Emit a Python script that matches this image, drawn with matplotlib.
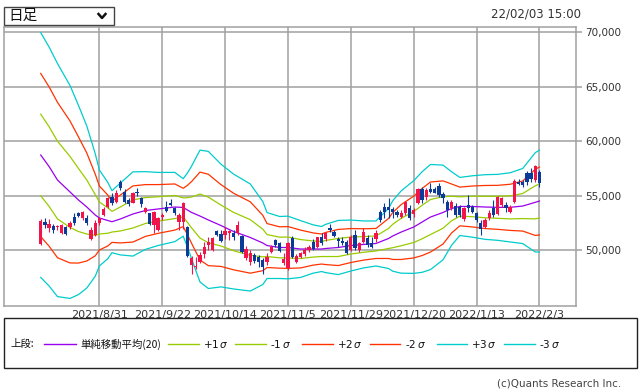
import matplotlib
matplotlib.use('Agg')
import matplotlib.pyplot as plt
from matplotlib.patches import Rectangle
from matplotlib.lines import Line2D
from matplotlib.ticker import FuncFormatter
import numpy as np

plt.rcParams['font.family'] = ['DejaVu Sans', 'Noto Sans CJK JP']

# ---------------- data ----------------
opens = [50550, 52600, 52000, 52210, 52090, 51540, 52090, 52140, 53060, 53380,
         52970, 52970, 50980, 51380, 52460, 53220, 53980, 54900, 54440, 56280,
         55360, 54600, 54350, 55360, 54760, 53520, 53380, 52300, 51840, 53060,
         53980, 54300, 53840, 52600, 52600, 52090, 48620, 48410, 48920, 49630,
         50460, 50000, 51750, 51440, 51380, 51540, 51540, 51540, 51290, 49240,
         48920, 49540, 49330, 49080, 48920, 49840, 50920, 50620, 48780, 48340,
         51080, 48920, 49330, 49630, 50000, 50760, 50300, 51170, 50980, 52000,
         51680, 50980, 50860, 50760, 50000, 51380, 50000, 50760, 51080, 50670,
         50980, 53520, 53980, 53980, 53740, 53520, 53060, 53380, 53840, 53310,
         54300, 55580, 54900, 55580, 55580, 55860, 55180, 54390, 53840, 54080,
         53910, 52820, 54140, 53980, 53430, 52510, 52090, 52920, 53840, 53310,
         54140, 54140, 53520, 54440, 56280, 56280, 57110, 57110, 56440, 57200]
closes = [52670, 52300, 52390, 51840, 52140, 52330, 51470, 52460, 52510, 53160,
          53470, 52510, 51840, 52510, 52920, 53770, 54760, 54300, 55220, 55680,
          54440, 54230, 55270, 55220, 54230, 53840, 52390, 53520, 52920, 53220,
          53620, 54140, 53380, 53220, 54350, 49450, 49240, 48500, 49540, 50280,
          50760, 51130, 51380, 50860, 51750, 51750, 51220, 52300, 49840, 50060,
          49700, 49020, 48920, 48410, 49380, 50300, 50460, 49910, 49140, 50620,
          49380, 49450, 49750, 50000, 50300, 50060, 51170, 50620, 51540, 51840,
          51290, 50860, 50620, 49750, 51220, 50160, 50670, 51680, 50460, 50300,
          51590, 52760, 53520, 53680, 53520, 53220, 53430, 54440, 52920, 53680,
          55580, 54600, 55520, 55360, 55270, 55060, 54760, 53680, 54440, 53220,
          53220, 53840, 53840, 53520, 52760, 51900, 52760, 53430, 53220, 54850,
          54760, 53840, 53980, 56380, 56070, 55980, 56280, 56500, 57730, 56140]
highs = [52850, 52920, 52820, 52390, 52330, 52390, 52210, 52700, 53380, 53500,
         53590, 53220, 52090, 52760, 53060, 53930, 54900, 55220, 55520, 56440,
         55610, 54780, 55360, 55680, 54900, 53980, 53430, 53590, 53060, 53380,
         54540, 54660, 53980, 53380, 54440, 52210, 49450, 49380, 49840, 50740,
         51200, 51220, 51840, 51840, 52140, 51840, 51840, 52670, 51380, 50370,
         50000, 49700, 49540, 49240, 49700, 50460, 50980, 50760, 49700, 50760,
         51290, 49630, 49840, 50300, 50460, 50980, 51220, 51540, 51680, 52390,
         51840, 51170, 51170, 50920, 51380, 51840, 50760, 52000, 51380, 51220,
         51840, 53680, 54300, 54760, 53930, 53680, 53680, 54540, 54140, 53840,
         55680, 55820, 55680, 56140, 55820, 56140, 55360, 54600, 54600, 54300,
         54140, 53960, 55060, 54140, 53520, 52760, 52920, 53680, 54600, 54970,
         54900, 54440, 54140, 56500, 56500, 56440, 57300, 57520, 57820, 57360]
lows = [50460, 52000, 51680, 51590, 51840, 51470, 51380, 51900, 52300, 53040,
        52760, 52300, 50920, 51290, 52300, 53130, 53840, 54140, 54300, 55520,
        54350, 54050, 54300, 54970, 53930, 53380, 52300, 51540, 51780, 52760,
        53520, 54050, 53220, 51840, 51900, 49360, 47790, 48220, 48780, 49260,
        50000, 49940, 51290, 50760, 50980, 50920, 50920, 51380, 49750, 49080,
        48620, 48780, 48460, 47790, 48620, 49700, 50300, 49840, 48620, 48160,
        49240, 48780, 49240, 49450, 49840, 50000, 50160, 50460, 50860, 51680,
        51170, 50300, 50460, 49630, 49950, 50000, 49840, 50670, 50300, 50160,
        50760, 52600, 52920, 52920, 52920, 53060, 52920, 53220, 52760, 53060,
        54200, 54300, 54600, 55220, 55220, 54900, 54300, 53060, 53680, 53060,
        53060, 52670, 53520, 53380, 52600, 51380, 52000, 52760, 53060, 53220,
        53980, 53520, 53380, 54300, 55980, 55820, 55980, 56280, 56280, 55820]

tick_idx = [14, 29, 44, 59, 74, 89, 104, 119]
tick_labels = ['2021/8/31', '2021/9/22', '2021/10/14', '2021/11/5',
               '2021/11/29', '2021/12/20', '2022/1/13', '2022/2/3']

# Bollinger band readings: bar index, 20-day SMA, sigma
band_idx = [0, 2, 4, 7, 9, 11, 13, 14, 16, 17, 19, 22, 25, 28, 32, 34, 35, 36, 38, 40,
            43, 46, 50, 53, 54, 57, 59, 62, 65, 67, 68, 71, 74, 77, 80, 83, 84, 86, 89, 91,
            93, 96, 98, 100, 103, 106, 109, 112, 115, 118, 119]
band_mid = [58730, 57670, 56430, 55330, 54600, 53950, 53220, 52940, 52710, 52600,
            52850, 53310, 53630, 53770, 53950, 53910, 53680, 53450, 53120, 52760,
            52250, 51700, 51150, 50640, 50410, 50230, 50230, 50090, 50090, 50090,
            50140, 50230, 50410, 50510, 50600, 51060, 51290, 51650, 52110, 52570,
            53030, 53450, 53810, 54000, 54000, 53950, 53920, 53920, 54040, 54380, 54500]
band_sigma = [3750, 3660, 3570, 3260, 2900, 2480, 1880, 1470, 1170, 950,
              1100, 1290, 1190, 1120, 1060, 880, 1130, 1420, 2020, 2100,
              1880, 1760, 1640, 1270, 1010, 950, 960, 870, 740, 690,
              740, 830, 780, 720, 690, 920, 1080, 1260, 1420, 1540,
              1610, 1450, 1130, 890, 940, 990, 1010, 1060, 1150, 1520, 1560]

legend_labels = ['単純移動平均(20)', '+1', '-1', '+2', '-2', '+3', '-3']

# ---------------- style ----------------
UP = '#f0144a'
DOWN = '#0c3a98'
C_MID = '#9900ee'
C_1 = '#99cc00'
C_2 = '#ff3300'
C_3 = '#00cccc'
GRID = '#a0a0a0'
W, H = 640, 392

def fx(px):
    return px / W

def fy(py):
    return 1 - py / H

fig = plt.figure(figsize=(W / 100, H / 100), dpi=100)
fig.patch.set_facecolor('white')

ax = fig.add_axes([fx(4), fy(305.7), (575.5 - 4) / W, (305.7 - 26.7) / H])
ax.set_xlim(-8.76, 127.6)
ax.set_ylim(44881, 70521)

# grid
ax.set_axisbelow(True)
ax.set_xticks(tick_idx)
ax.set_xticklabels(tick_labels)
ax.set_yticks([50000, 55000, 60000, 65000, 70000])
ax.grid(True, color=GRID, lw=1.1)
for s in ax.spines.values():
    s.set_color(GRID)
    s.set_linewidth(1.1)
ax.yaxis.tick_right()
ax.yaxis.set_major_formatter(FuncFormatter(lambda v, p: f'{int(v):,}'))
ax.tick_params(axis='y', length=4, width=1.1, color=GRID, labelsize=7.5,
               labelcolor='#333333', pad=3)
ax.tick_params(axis='x', length=0, labelsize=8, labelcolor='#333333', pad=3)

# bands
bi = np.array(band_idx)
bm = np.array(band_mid, dtype=float)
bs = np.array(band_sigma, dtype=float)
lw = 0.9
ax.plot(bi, bm, color=C_MID, lw=lw, zorder=2)
for k, col in [(1, C_1), (2, C_2), (3, C_3)]:
    ax.plot(bi, bm + k * bs, color=col, lw=lw, zorder=2)
    ax.plot(bi, bm - k * bs, color=col, lw=lw, zorder=2)

# candles
o = np.array(opens, dtype=float)
c = np.array(closes, dtype=float)
hh = np.array(highs, dtype=float)
ll = np.array(lows, dtype=float)
xi = np.arange(len(o))
cols = np.where(c >= o, UP, DOWN)
ax.vlines(xi, ll, hh, colors=cols, lw=0.8, zorder=3)
bottom = np.minimum(o, c)
height = np.maximum(np.abs(c - o), 70)
ax.bar(xi, height, bottom=bottom, width=0.78, color=cols, lw=0, zorder=4)

# top-left dropdown
fig.patches.append(Rectangle((fx(4), fy(25)), (114 - 4) / W, (25 - 6.7) / H,
                             transform=fig.transFigure, fill=True, facecolor='white',
                             edgecolor='#444444', lw=1.0, zorder=10))
fig.text(fx(8), fy(16), '日足', family=['Noto Sans CJK JP', 'DejaVu Sans'],
         fontsize=10.5, va='center', ha='left', color='#111111', zorder=11)
fig.lines.append(Line2D([fx(98.5), fx(102), fx(105.5)], [fy(14), fy(18), fy(14)],
                        transform=fig.transFigure, color='#111111', lw=1.8, zorder=11))

fig.text(fx(581), fy(14), '22/02/03 15:00', fontsize=8.5, ha='right', va='center',
         color='#333333')

# legend box
fig.patches.append(Rectangle((fx(4), fy(368)), (637 - 4) / W, (368 - 318) / H,
                             transform=fig.transFigure, fill=False,
                             edgecolor='#222222', lw=1.0))
ly = fy(344)
cjk = ['Noto Sans CJK JP', 'DejaVu Sans']
fig.text(fx(10), ly, '上段:', family=cjk, fontsize=7.5, va='center', color='#111111')
items = [
    (44, 76, C_MID, 80, legend_labels[0]),
    (168, 199, C_1, 203, legend_labels[1]),
    (235, 266, C_1, 270, legend_labels[2]),
    (302, 333, C_2, 337, legend_labels[3]),
    (370, 400, C_2, 405, legend_labels[4]),
    (437, 467, C_3, 471, legend_labels[5]),
    (504, 535, C_3, 539, legend_labels[6]),
]
for i, (x0, x1, col, tx, lab) in enumerate(items):
    fig.lines.append(Line2D([fx(x0), fx(x1)], [ly, ly], transform=fig.transFigure,
                            color=col, lw=1.0))
    if i == 0:
        fig.text(fx(tx), ly, lab, family=cjk, fontsize=7.5, va='center', color='#111111')
    else:
        fig.text(fx(tx), ly, lab + r'$\,\sigma$', fontsize=7.5, va='center',
                 color='#111111')

fig.text(fx(621), fy(383), '(c)Quants Research Inc.', fontsize=7.5, ha='right',
         va='center', color='#444444')

fig.savefig('out.png', dpi=100)
